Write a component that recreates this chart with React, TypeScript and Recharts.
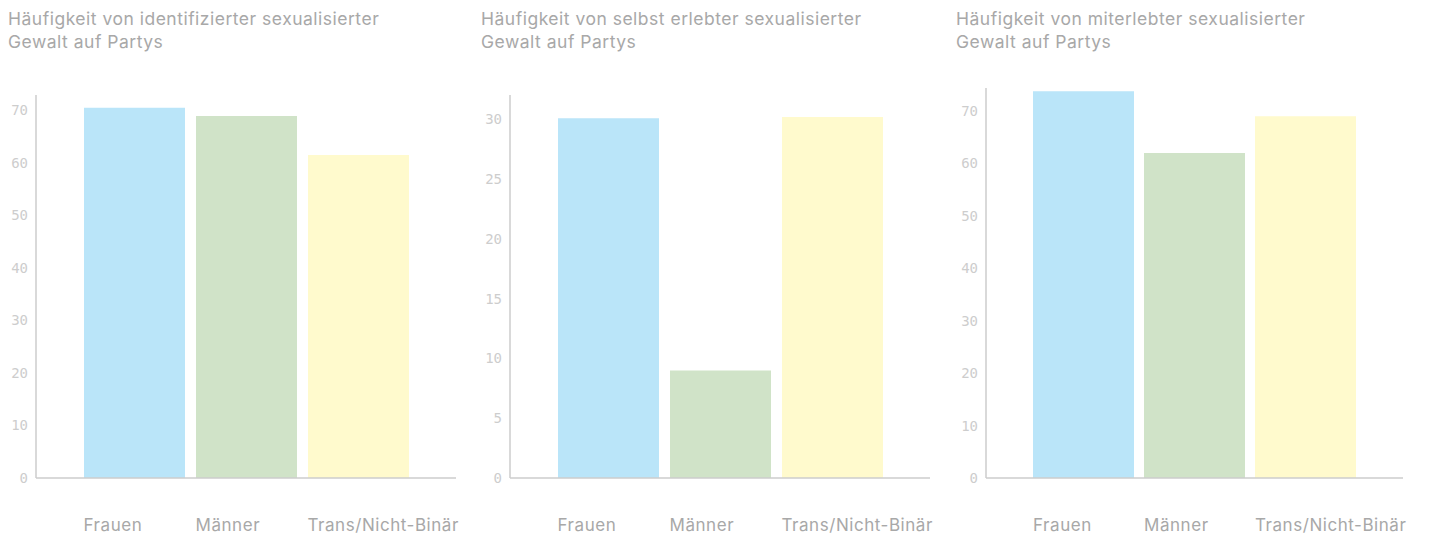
import { Bar, BarChart, Cell, XAxis, YAxis } from "recharts"

const categories = ["Frauen", "Männer", "Trans/Nicht-Binär"]
const barColors = ["#bae5f9", "#d0e3c8", "#fffacd"]

const identifiedValues = [70.5, 68.95, 61.5]
const experiencedValues = [30.1, 9.0, 30.2]
const witnessedValues = [73.8, 62.0, 69.0]

const ticks70 = [0, 10, 20, 30, 40, 50, 60, 70]
const ticks30 = [0, 5, 10, 15, 20, 25, 30]

const titles = [
  ["Häufigkeit von identifizierter sexualisierter", "Gewalt auf Partys"],
  ["Häufigkeit von selbst erlebter sexualisierter", "Gewalt auf Partys"],
  ["Häufigkeit von miterlebter sexualisierter", "Gewalt auf Partys"],
]

const panels = [
  { values: identifiedValues, ticks: ticks70, max: 72.95, left: 0, width: 456, top: 95, titleLeft: 8 },
  { values: experiencedValues, ticks: ticks30, max: 32.05, left: 474, width: 456, top: 95, titleLeft: 481 },
  { values: witnessedValues, ticks: ticks70, max: 74.4, left: 950, width: 453, top: 88, titleLeft: 956 },
]

const BAR_SIZE = 101
const EXTRA_RIGHT = 24
const SANS = "Inter, 'Noto Sans', sans-serif"

function CategoryTick(props: any) {
  const { x, y, payload } = props
  return (
    <text
      x={x - BAR_SIZE / 2}
      y={y + 45}
      textAnchor="start"
      fill="#a8a8a8"
      fontSize={17}
      letterSpacing={0.55}
      fontFamily={SANS}
    >
      {payload.value}
    </text>
  )
}

function Panel({ index }: { index: number }) {
  const panel = panels[index]
  const data = categories.map((name, i) => ({ name, value: panel.values[i] }))

  return (
    <>
      <div
        style={{
          position: "absolute",
          left: panel.titleLeft,
          top: 7,
          width: 470,
          fontFamily: SANS,
          fontSize: 17.5,
          letterSpacing: 0.5,
          lineHeight: "23px",
          color: "#a8a8a8",
        }}
      >
        {titles[index][0]}
        <br />
        {titles[index][1]}
      </div>
      <div style={{ position: "absolute", left: panel.left, top: 0 }}>
        <BarChart
          width={panel.width + EXTRA_RIGHT}
          height={535}
          data={data}
          margin={{ top: panel.top, right: EXTRA_RIGHT, bottom: 0, left: 0 }}
        >
          <XAxis
            dataKey="name"
            height={57}
            padding={{ left: 42, right: 42 }}
            axisLine={{ stroke: "#cccccc", strokeWidth: 1.5 }}
            tickLine={false}
            tick={<CategoryTick />}
            interval={0}
          />
          <YAxis
            width={36}
            domain={[0, panel.max]}
            ticks={panel.ticks}
            allowDataOverflow
            axisLine={{ stroke: "#cccccc", strokeWidth: 1.5 }}
            tickLine={false}
            tick={{ fill: "#cdcdcd", fontSize: 14, fontFamily: "'DejaVu Sans Mono', monospace" }}
          />
          <Bar dataKey="value" barSize={BAR_SIZE} isAnimationActive={false}>
            {data.map((entry, i) => (
              <Cell key={entry.name} fill={barColors[i]} />
            ))}
          </Bar>
        </BarChart>
      </div>
    </>
  )
}

export default function App() {
  return (
    <div style={{ position: "absolute", left: 0, top: 0, width: 1432, height: 535, background: "#ffffff" }}>
      <Panel index={0} />
      <Panel index={1} />
      <Panel index={2} />
    </div>
  )
}
